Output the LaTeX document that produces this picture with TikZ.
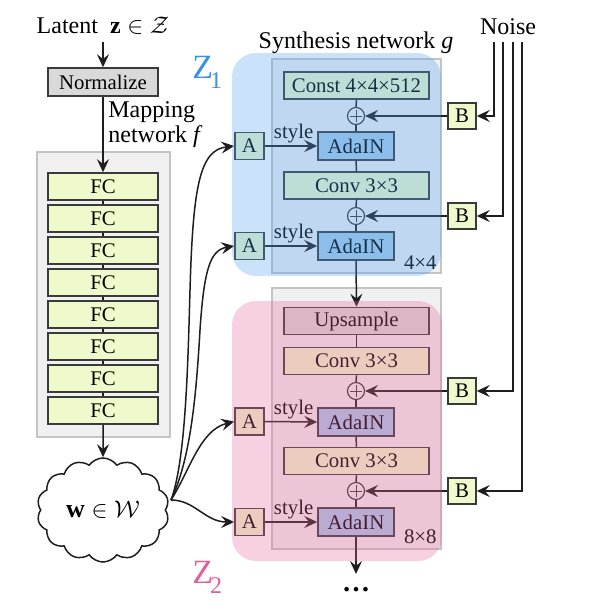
\documentclass[tikz,border=0pt]{standalone}
\usepackage{fontspec}
\setmainfont{Liberation Serif}
\usetikzlibrary{shapes.symbols,arrows.meta}
\definecolor{fcfill}{HTML}{EEFACB}
\definecolor{normfill}{HTML}{D9D9D9}
\definecolor{adafill}{HTML}{A6CBE9}
\definecolor{panelfill}{HTML}{F0F0F0}
\definecolor{panelline}{HTML}{C4C4C4}
\definecolor{boxline}{HTML}{3A3A3A}
\definecolor{arrcol}{HTML}{1E1E1E}
\definecolor{zblue}{RGB}{78,160,240}
\definecolor{zpink}{RGB}{230,100,160}
\definecolor{zbluetxt}{HTML}{3A8FE8}
\definecolor{zpinktxt}{HTML}{E0609E}
\begin{document}
\begin{tikzpicture}[x=0.5pt,y=-0.5pt,
  lbl/.style={font=\fontsize{12}{12.5}\selectfont, text=black, inner sep=0pt},
  bfont/.style={font=\fontsize{10.4}{12}\selectfont},
  box/.style={bfont, draw=boxline, line width=0.75pt, inner sep=0pt, text=black},
  fcbox/.style={box, fill=fcfill, minimum width=55pt, minimum height=13.5pt},
  normbox/.style={box, fill=normfill, minimum width=55pt, minimum height=14pt},
  widebox/.style={box, fill=fcfill, minimum width=72.5pt, minimum height=13.5pt},
  upbox/.style={box, fill=normfill, minimum width=72.5pt, minimum height=13.5pt},
  adabox/.style={box, fill=adafill, minimum width=38pt, minimum height=14pt},
  abox/.style={box, fill=fcfill, minimum width=14.5pt, minimum height=13.5pt},
  plusnode/.style={circle, draw=boxline, line width=0.6pt, minimum size=8.5pt, inner sep=0pt,
    path picture={\draw[line width=0.5pt,boxline]
      ([xshift=-2.8pt]path picture bounding box.center) -- ([xshift=2.8pt]path picture bounding box.center)
      ([yshift=-2.8pt]path picture bounding box.center) -- ([yshift=2.8pt]path picture bounding box.center);}},
  arr/.style={draw=arrcol, line width=0.75pt, -{Stealth[length=6.5pt,width=6pt,inset=2.4pt]}},
  link/.style={draw=arrcol, line width=0.75pt},
  bgpanel/.style={fill=panelfill, draw=panelline, line width=0.6pt, inner sep=0pt},
  stylelbl/.style={bfont, above, inner sep=1pt, pos=0.55},
]
\useasboundingbox (0,0) rectangle (594,611);

% background panels
\node[bgpanel, minimum width=66.5pt, minimum height=142.5pt] (mapbg) at (103.5,294.5) {};
\node[bgpanel, minimum width=84.5pt, minimum height=107pt] (syn1bg) at (356.5,166) {};
\node[bgpanel, minimum width=84.5pt, minimum height=130.5pt] (syn2bg) at (356.5,418.5) {};

% mapping network
\node[lbl] (latent) at (103,26) {Latent\ \ $\mathbf{z}\in\mathcal{Z}$};
\node[normbox] (norm) at (103,82) {Normalize};
\node[lbl, anchor=west, align=left] (maplbl) at (108,125) {Mapping\\network \textit{f}};
\foreach \i in {1,...,8} {
  \node[fcbox] (fc\i) at (103,{186.5+32*(\i-1)}) {FC};
}
\node[cloud, draw=arrcol, line width=0.75pt, cloud puffs=14, cloud puff arc=110,
      cloud ignores aspect, minimum width=66pt, minimum height=52pt, inner sep=0pt,
      font=\fontsize{13}{14}\selectfont] (w) at (103,510) {$\mathbf{w}\in\mathcal{W}$};
\coordinate (wout) at (171,500);

\draw[arr] (latent.south |- 0,42) -- (norm.north);
\draw[arr] (norm.south) -- (fc1.north);
\foreach \i [evaluate=\i as \j using int(\i+1)] in {1,...,7} {
  \draw[link] (fc\i.south) -- (fc\j.north);
}
\draw[arr] (fc8.south) -- (w.north);

% synthesis labels
\node[lbl] (synlbl) at (356,43) {Synthesis network \textit{g}};
\node[lbl] (noise) at (508,27) {Noise};

% block 4x4
\node[widebox] (const) at (356.5,85.5) {Const 4×4×512};
\node[plusnode] (p1) at (356,116) {};
\node[adabox] (ada1) at (356,146) {AdaIN};
\node[widebox] (conv1) at (356.5,185.5) {Conv 3×3};
\node[plusnode] (p2) at (356,216) {};
\node[adabox] (ada2) at (356,246) {AdaIN};
\node[bfont, anchor=east, inner sep=0pt] (res1) at (437,263) {4×4};

% block 8x8
\node[upbox] (ups) at (356.5,321) {Upsample};
\node[widebox] (conv2) at (356.5,361) {Conv 3×3};
\node[plusnode] (p3) at (356,391) {};
\node[adabox] (ada3) at (356,422) {AdaIN};
\node[widebox] (conv3) at (356.5,461) {Conv 3×3};
\node[plusnode] (p4) at (356,491) {};
\node[adabox] (ada4) at (356,522) {AdaIN};
\node[bfont, anchor=east, inner sep=0pt] (res2) at (437,537) {8×8};
\coordinate (dtop) at (356,574);
\node[font=\fontsize{14}{14}\selectfont, inner sep=0pt] (dots) at (356,590) {\textbf{\dots}};

% A and B boxes
\node[abox] (A1) at (249.5,146) {A};
\node[abox] (A2) at (249.5,246) {A};
\node[abox] (A3) at (249.5,421.5) {A};
\node[abox] (A4) at (249.5,522) {A};
\node[abox, minimum width=14pt, minimum height=13pt] (B1) at (462,116) {B};
\node[abox, minimum width=14pt, minimum height=13pt] (B2) at (462,216) {B};
\node[abox, minimum width=14pt, minimum height=13pt] (B3) at (462,391) {B};
\node[abox, minimum width=14pt, minimum height=13pt] (B4) at (462,491) {B};

% synthesis connectors
\draw[link] (const.south) -- (p1.north);
\draw[link] (p1.south) -- (ada1.north);
\draw[link] (ada1.south) -- (conv1.north);
\draw[link] (conv1.south) -- (p2.north);
\draw[link] (p2.south) -- (ada2.north);
\draw[arr] (ada2.south) -- (ups.north);
\draw[link] (ups.south) -- (conv2.north);
\draw[link] (conv2.south) -- (p3.north);
\draw[link] (p3.south) -- (ada3.north);
\draw[link] (ada3.south) -- (conv3.north);
\draw[link] (conv3.south) -- (p4.north);
\draw[link] (p4.south) -- (ada4.north);
\draw[arr] (ada4.south) -- (dtop);

% style arrows
\draw[arr] (A1.east) -- node[stylelbl] {style} (ada1.west);
\draw[arr] (A2.east) -- node[stylelbl] {style} (ada2.west);
\draw[arr] (A3.east) -- node[stylelbl] {style} (ada3.west);
\draw[arr] (A4.east) -- node[stylelbl] {style} (ada4.west);

% noise
\coordinate (nz1) at (494,42);
\coordinate (nz2) at (503,42);
\coordinate (nz3) at (513,42);
\coordinate (nz4) at (522,42);
\draw[arr] (nz1) |- (B1.east);
\draw[arr] (nz2) |- (B2.east);
\draw[arr] (nz3) |- (B3.east);
\draw[arr] (nz4) |- (B4.east);
\draw[arr] (B1.west) -- (p1.east);
\draw[arr] (B2.west) -- (p2.east);
\draw[arr] (B3.west) -- (p3.east);
\draw[arr] (B4.west) -- (p4.east);

% w to A
\draw[arr] (wout) .. controls (186,460) and (188,360) .. (190,290)
                  .. controls (193,185) and (200,150) .. (A1.west);
\draw[arr] (wout) .. controls (190,460) and (196,400) .. (200,330)
                  .. controls (204,270) and (210,250) .. (A2.west);
\draw[arr] (wout) .. controls (190,470) and (200,430) .. (A3.west);
\draw[arr] (wout) .. controls (195,500) and (205,522) .. (A4.west);

% overlays
\fill[zblue, fill opacity=0.3, rounded corners=12pt] (232,53) rectangle (441,276);
\fill[zpink, fill opacity=0.3, rounded corners=12pt] (232,301) rectangle (442,561);

\node[anchor=base west, inner sep=0pt, text=zbluetxt, font=\fontsize{17}{17}\selectfont] (z1) at (192,78)
  {Z\kern-1.5pt\raisebox{-5pt}{\fontsize{12}{12}\selectfont 1}};
\node[anchor=base west, inner sep=0pt, text=zpinktxt, font=\fontsize{17}{17}\selectfont] (z2) at (192,583)
  {Z\kern-1.5pt\raisebox{-5pt}{\fontsize{12}{12}\selectfont 2}};
\end{tikzpicture}
\end{document}
